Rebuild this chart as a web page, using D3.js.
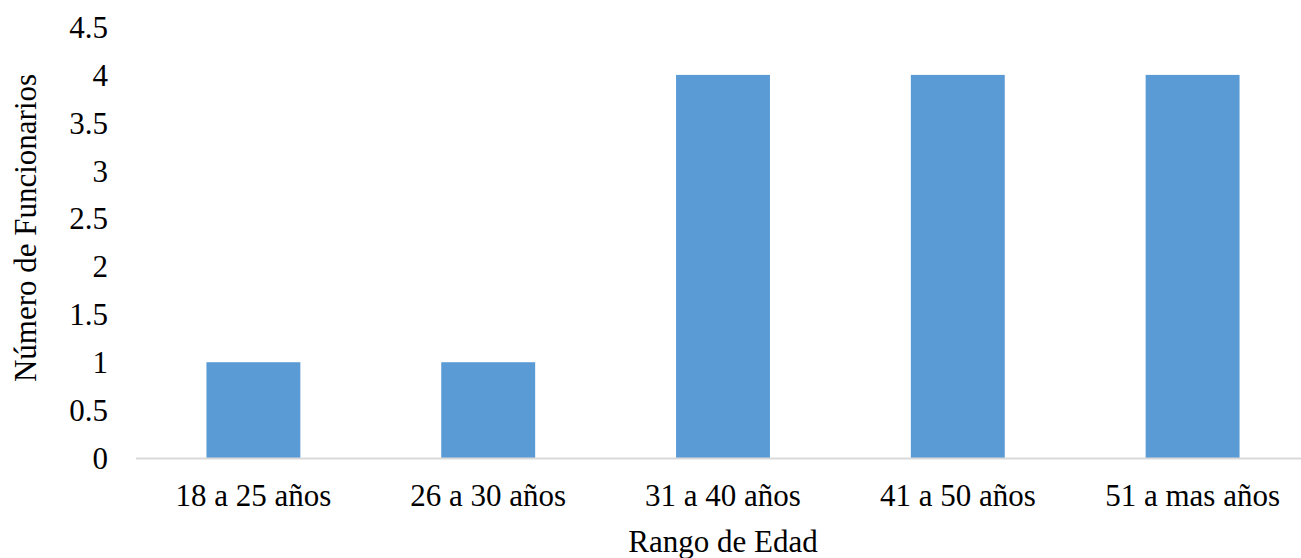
<!DOCTYPE html>
<html>
<head>
<meta charset="utf-8">
<script src="https://cdn.jsdelivr.net/npm/d3@7"></script>
<style>
  body { margin: 0; background: #fff; }
  text { font-family: "Liberation Serif", "Times New Roman", serif; fill: #000; }
</style>
</head>
<body>
<div id="chart"></div>
<script>
var categories = ["18 a 25 años", "26 a 30 años", "31 a 40 años", "41 a 50 años", "51 a mas años"];
var values = [1, 1, 4, 4, 4];
var yTicks = [0, 0.5, 1, 1.5, 2, 2.5, 3, 3.5, 4, 4.5];

var width = 1301, height = 558;
var plotLeft = 136, plotRight = 1310, plotTop = 27, plotBottom = 458;

var svg = d3.select("#chart")
  .append("svg")
    .attr("width", width)
    .attr("height", height);

var x = d3.scaleBand()
  .domain(categories)
  .range([plotLeft, plotRight])
  .paddingInner(0.6)
  .paddingOuter(0.3);

var y = d3.scaleLinear()
  .domain([0, 4.5])
  .range([plotBottom, plotTop]);

// y tick labels
svg.selectAll(".ytick")
  .data(yTicks)
  .enter()
  .append("text")
    .attr("x", 108)
    .attr("y", function(d) { return y(d); })
    .attr("dy", "0.35em")
    .attr("text-anchor", "end")
    .style("font-size", "31px")
    .text(function(d) { return d; });

// bars
svg.selectAll(".bar")
  .data(values)
  .enter()
  .append("rect")
    .attr("x", function(d, i) { return x(categories[i]); })
    .attr("y", function(d) { return y(d); })
    .attr("width", x.bandwidth())
    .attr("height", function(d) { return y(0) - y(d); })
    .style("fill", "#5b9bd5");

// x axis line
svg.append("line")
  .attr("x1", plotLeft)
  .attr("x2", plotRight)
  .attr("y1", y(0) + 0.5)
  .attr("y2", y(0) + 0.5)
  .attr("stroke", "#d9d9d9")
  .attr("stroke-width", 2);

// x labels
svg.selectAll(".xlab")
  .data(categories)
  .enter()
  .append("text")
    .attr("x", function(d) { return x(d) + x.bandwidth() / 2; })
    .attr("y", 506)
    .attr("text-anchor", "middle")
    .style("font-size", "31px")
    .text(function(d) { return d; });

// axis titles
svg.append("text")
  .attr("x", 723)
  .attr("y", 552)
  .attr("text-anchor", "middle")
  .style("font-size", "31px")
  .text("Rango de Edad");

svg.append("text")
  .attr("transform", "translate(36,228)rotate(-90)")
  .attr("text-anchor", "middle")
  .style("font-size", "31px")
  .text("Número de Funcionarios");
</script>
</body>
</html>
